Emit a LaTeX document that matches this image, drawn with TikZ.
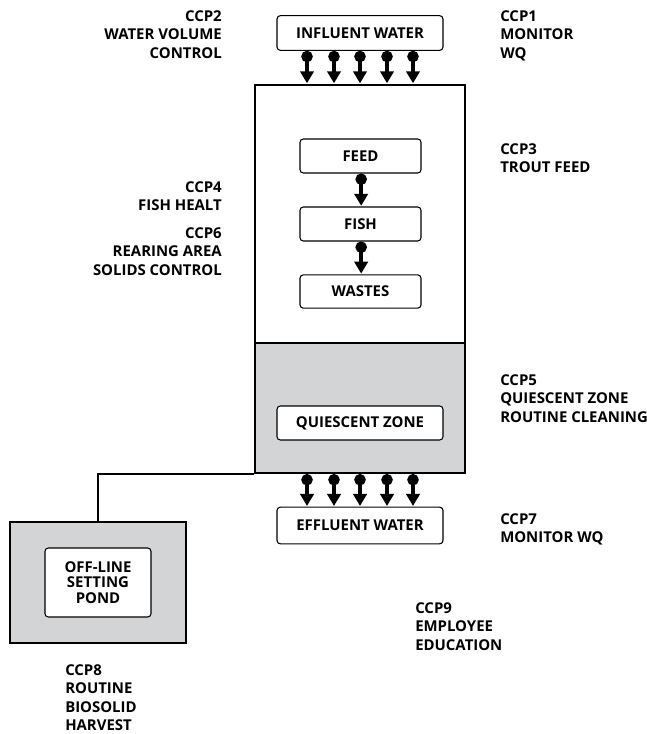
\documentclass[tikz,border=0pt]{standalone}
\usepackage{fontspec}
\setmainfont{Open Sans}
\usetikzlibrary{positioning, arrows.meta}
\definecolor{zoneGray}{RGB}{211, 212, 214}

\begin{document}
\begin{tikzpicture}[x=0.75pt, y=-0.75pt,
    font=\fontsize{11.2}{13.9}\selectfont\bfseries,
    box/.style={draw, line width=0.8pt, rounded corners=2.5pt, fill=white, minimum width=124.5pt, minimum height=26pt, inner sep=0pt},
    basin/.style={draw, line width=1.6pt, inner sep=0pt},
    ccp/.style={inner sep=0pt, align=left, anchor=north west},
    ccpR/.style={inner sep=0pt, align=right, anchor=north east},
    flow/.style={line width=3pt, {Circle[length=8.5pt]}-{Triangle[length=9pt, width=10pt]}, shorten >=0.5pt}]
    \useasboundingbox (0,0) rectangle (646,734);
    % rearing unit and quiescent zone
    \node[basin, minimum width=157.5pt, minimum height=193.5pt] (tank) at (360,214) {};
    \node[basin, fill=zoneGray, minimum width=157.5pt, minimum height=97.5pt] (qzone) at (360,408) {};
    \node[box] (inf) at (360,33) {INFLUENT WATER};
    \node[box, minimum width=90.75pt, minimum height=25.5pt] (feed) at (360.5,156) {FEED};
    \node[box, minimum width=90.75pt, minimum height=25.5pt] (fish) at (360.5,224) {FISH};
    \node[box, minimum width=90.75pt, minimum height=25pt] (wastes) at (360.5,291.5) {WASTES};
    \node[box, minimum height=25.5pt] (quiet) at (360,423) {QUIESCENT ZONE};
    \node[box, minimum height=27.5pt] (eff) at (360,525.5) {EFFLUENT WATER};
    % off-line pond
    \node[basin, fill=zoneGray, minimum width=132pt, minimum height=90.75pt] (pond) at (98,582.5) {};
    \node[box, align=center, minimum width=79.5pt, minimum height=51.75pt, font=\fontsize{11.2}{11.5}\selectfont\bfseries] (offpond) at (98,582.5) {OFF-LINE\\SETTING\\POND};
    % water flow
    \foreach \dx in {-53,-26,0,27,53} {
        \draw[flow] ([xshift=\dx*0.75pt]inf.south) -- ([xshift=\dx*0.75pt]tank.north);
        \draw[flow] ([xshift=\dx*0.75pt]qzone.south) -- ([xshift=\dx*0.75pt]eff.north);
    }
    \draw[flow] ([xshift=0.5pt]feed.south) -- ([xshift=0.5pt]fish.north);
    \draw[flow] ([xshift=0.5pt]fish.south) -- ([xshift=0.5pt]wastes.north);
    \draw[line width=1.6pt] (qzone.south west) -| (pond.north);
    % control points
    \node[ccpR] (ccp2) at (222,10) {CCP2\\WATER VOLUME\\CONTROL};
    \node[ccp] (ccp1) at (500,10) {CCP1\\MONITOR\\WQ};
    \node[ccp] (ccp3) at (500,143) {CCP3\\TROUT FEED};
    \node[ccpR] (ccp4) at (222,181) {CCP4\\FISH HEALT};
    \node[ccpR] (ccp6) at (222,227) {CCP6\\REARING AREA\\SOLIDS CONTROL};
    \node[ccp] (ccp5) at (500,374) {CCP5\\QUIESCENT ZONE\\ROUTINE CLEANING};
    \node[ccp] (ccp7) at (500,513) {CCP7\\MONITOR WQ};
    \node[ccp] (ccp9) at (415,602) {CCP9\\EMPLOYEE\\EDUCATION};
    \node[ccp] (ccp8) at (65,664) {CCP8\\ROUTINE\\BIOSOLID\\HARVEST};
\end{tikzpicture}
\end{document}
